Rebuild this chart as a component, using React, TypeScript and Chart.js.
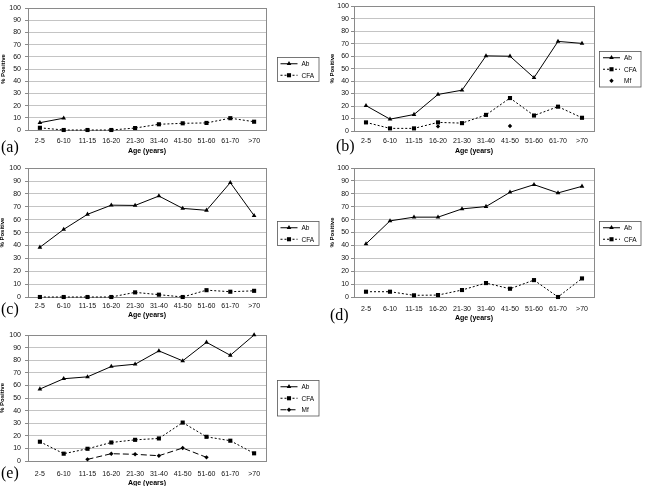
import React, { useEffect, useRef } from "react";
import { Chart, registerables } from "chart.js";

Chart.register(...registerables);

const categories = ["2-5", "6-10", "11-15", "16-20", "21-30", "31-40", "41-50", "51-60", "61-70", ">70"];
const yTickStep = 10;
const yMax = 100;

const aAb = [6, 9.7, null, null, null, null, null, null, null, null];
const aCfa = [1.8, 0, 0, 0, 1.6, 4.7, 5.5, 5.8, 9.7, 6.8];

const bAb = [20.3, 9.5, 13.2, 29.3, 32.7, 60.2, 59.9, 42.7, 71.8, 70.2];
const bCfa = [6.9, 2.1, 2.1, 6.9, 6.3, 12.9, 26.4, 12.4, 19.5, 10.6];
const bMf = [null, null, null, 3.7, null, null, 4, null, null, null];

const cAb = [38.6, 52.5, 64.2, 71.3, 71.1, 78.4, 68.8, 67.3, 88.8, 63.2];
const cCfa = [0, 0, 0, 0, 3.6, 1.8, 0, 5.3, 4.1, 4.8];

const dAb = [41.2, 59, 61.9, 61.9, 68.3, 70.1, 81.2, 87.1, 80.7, 85.8];
const dCfa = [4.1, 4.1, 1.3, 1.5, 5.4, 10.8, 6.4, 13.1, 0, 14.4];

const eAb = [57.1, 65.3, 66.8, 75, 76.8, 87.4, 79.5, 94.2, 83.9, 100];
const eCfa = [15.3, 5.8, 9.7, 14.7, 16.8, 17.9, 30.5, 19.2, 16.1, 6.1];
const eMf = [null, null, 1.3, 5.8, 5.3, 4.2, 10.3, 2.9, null, null];

const seriesNames = ["Ab", "CFA", "Mf"];
const xTitle = "Age (years)";
const yTitle = "% Positive";

const FONT = "'Liberation Sans', Arial, sans-serif";

type Style = { pointStyle: string; radius: number; dash: number[]; showLine: boolean };
const abStyle: Style = { pointStyle: "triangle", radius: 2.7, dash: [], showLine: true };
const cfaStyle: Style = { pointStyle: "rect", radius: 2.9, dash: [2, 2], showLine: true };
const mfDotStyle: Style = { pointStyle: "rectRot", radius: 2.2, dash: [], showLine: false };
const mfDashStyle: Style = { pointStyle: "rectRot", radius: 2.2, dash: [6, 3], showLine: true };

type PanelDef = {
  letter: string;
  canvas: { left: number; top: number; w: number; h: number };
  plot: { l: number; r: number; t: number; b: number };
  labelsDy: number;
  titleDy: number;
  yTitleX: number;
  tickGap: number;
  legendX: number;
  letterPos: { x: number; cy: number };
  series: { name: string; data: (number | null)[]; style: Style }[];
};

const panels: PanelDef[] = [
  {
    letter: "(a)",
    canvas: { left: 0, top: 0, w: 322, h: 160 },
    plot: { l: 28, r: 266, t: 3.5, b: 130 },
    labelsDy: 11, titleDy: 21, yTitleX: 3.3, tickGap: 4, legendX: 276.5,
    letterPos: { x: 1, cy: 147 },
    series: [
      { name: seriesNames[0], data: aAb, style: abStyle },
      { name: seriesNames[1], data: aCfa, style: cfaStyle },
    ],
  },
  {
    letter: "(b)",
    canvas: { left: 322, top: 0, w: 325, h: 160 },
    plot: { l: 354, r: 594, t: 4, b: 131 },
    labelsDy: 10.5, titleDy: 20, yTitleX: 332.5, tickGap: 2, legendX: 599,
    letterPos: { x: 336, cy: 146 },
    series: [
      { name: seriesNames[0], data: bAb, style: abStyle },
      { name: seriesNames[1], data: bCfa, style: cfaStyle },
      { name: seriesNames[2], data: bMf, style: mfDotStyle },
    ],
  },
  {
    letter: "(c)",
    canvas: { left: 0, top: 160, w: 322, h: 160 },
    plot: { l: 28, r: 266, t: 166, b: 297 },
    labelsDy: 9, titleDy: 18.5, yTitleX: 2.5, tickGap: 4, legendX: 276.5,
    letterPos: { x: 1, cy: 309 },
    series: [
      { name: seriesNames[0], data: cAb, style: abStyle },
      { name: seriesNames[1], data: cCfa, style: cfaStyle },
    ],
  },
  {
    letter: "(d)",
    canvas: { left: 322, top: 160, w: 325, h: 166 },
    plot: { l: 354, r: 594, t: 168, b: 297 },
    labelsDy: 11.7, titleDy: 21, yTitleX: 332.5, tickGap: 2, legendX: 599,
    letterPos: { x: 330, cy: 315 },
    series: [
      { name: seriesNames[0], data: dAb, style: abStyle },
      { name: seriesNames[1], data: dCfa, style: cfaStyle },
    ],
  },
  {
    letter: "(e)",
    canvas: { left: 0, top: 320, w: 322, h: 166 },
    plot: { l: 28, r: 266, t: 335, b: 461 },
    labelsDy: 13, titleDy: 22, yTitleX: 2.5, tickGap: 4, legendX: 276.5,
    letterPos: { x: 1, cy: 473 },
    series: [
      { name: seriesNames[0], data: eAb, style: abStyle },
      { name: seriesNames[1], data: eCfa, style: cfaStyle },
      { name: seriesNames[2], data: eMf, style: mfDashStyle },
    ],
  },
];

function drawMarker(ctx: CanvasRenderingContext2D, style: string, x: number, y: number, r: number) {
  ctx.beginPath();
  if (style === "triangle") {
    ctx.moveTo(x, y - r);
    ctx.lineTo(x + r * 0.866, y + r * 0.5);
    ctx.lineTo(x - r * 0.866, y + r * 0.5);
    ctx.closePath();
  } else if (style === "rect") {
    const s = r * Math.SQRT1_2;
    ctx.rect(x - s, y - s, 2 * s, 2 * s);
  } else {
    ctx.moveTo(x, y - r);
    ctx.lineTo(x + r, y);
    ctx.lineTo(x, y + r);
    ctx.lineTo(x - r, y);
    ctx.closePath();
  }
  ctx.fill();
}

const frameLegendPlugin = {
  id: "frameLegend",
  beforeDatasetsDraw(chart: any) {
    const { ctx, chartArea } = chart;
    ctx.save();
    ctx.strokeStyle = "#8a8a8a";
    ctx.lineWidth = 1;
    ctx.strokeRect(
      Math.round(chartArea.left) + 0.5,
      Math.round(chartArea.top) + 0.5,
      Math.round(chartArea.right - chartArea.left),
      Math.round(chartArea.bottom - chartArea.top)
    );
    ctx.restore();
  },
  afterDraw(chart: any) {
    const opts = chart.options.plugins.frameLegend;
    if (!opts) return;
    const { ctx, chartArea } = chart;
    const items = opts.items as { name: string; style: Style }[];
    const rowH = 11.5;
    const w = 41.5;
    const h = items.length * rowH + 1;
    const cy = (chartArea.top + chartArea.bottom) / 2;
    const top = Math.round(cy - h / 2);
    const x = opts.x;
    ctx.save();
    ctx.strokeStyle = "#555";
    ctx.lineWidth = 0.8;
    ctx.strokeRect(Math.round(x) + 0.5, top + 0.5, w, h);
    ctx.font = `6.5px ${FONT}`;
    ctx.textBaseline = "middle";
    ctx.textAlign = "left";
    items.forEach((it, i) => {
      const y = top + 1 + rowH * (i + 0.5);
      ctx.strokeStyle = "#000";
      ctx.fillStyle = "#000";
      ctx.lineWidth = 1;
      if (it.style.showLine) {
        ctx.setLineDash(it.style.dash);
        ctx.beginPath();
        ctx.moveTo(x + 4, y);
        ctx.lineTo(x + 21, y);
        ctx.stroke();
        ctx.setLineDash([]);
      }
      drawMarker(ctx, it.style.pointStyle, x + 12.5, y, it.style.radius);
      ctx.fillText(it.name, x + 25, y + 0.5);
    });
    ctx.restore();
  },
};

function Panel({ def }: { def: PanelDef }) {
  const ref = useRef<HTMLCanvasElement | null>(null);
  useEffect(() => {
    if (!ref.current) return;
    const c = def.canvas;
    const plotL = def.plot.l - c.left;
    const plotR = def.plot.r - c.left;
    const plotT = def.plot.t - c.top;
    const plotB = def.plot.b - c.top;
    const xH = c.h - plotB;
    const tickFont = 7;
    const titleFont = 7;
    const yTitleFont = 6;
    const chart = new Chart(ref.current, {
      type: "line",
      data: {
        labels: categories,
        datasets: def.series.map((s) => ({
          label: s.name,
          data: s.data,
          borderColor: "#000",
          backgroundColor: "#000",
          borderWidth: 1,
          borderDash: s.style.dash,
          showLine: s.style.showLine,
          pointStyle: s.style.pointStyle as any,
          pointRadius: s.style.radius,
          pointBorderWidth: 0,
          pointBackgroundColor: "#000",
          pointBorderColor: "#000",
          tension: 0,
          clip: false as any,
        })),
      },
      options: {
        animation: false,
        responsive: false,
        devicePixelRatio: 1,
        layout: { padding: { left: 0, top: plotT, right: c.w - plotR, bottom: 0 } },
        plugins: {
          legend: { display: false },
          tooltip: { enabled: false },
          frameLegend: {
            x: def.legendX - c.left,
            items: def.series.map((s) => ({ name: s.name, style: s.style })),
          },
        } as any,
        scales: {
          x: {
            type: "category",
            offset: true,
            grid: { display: false, drawTicks: false },
            border: { display: false },
            ticks: {
              color: "#111",
              font: { family: FONT, size: tickFont },
              padding: def.labelsDy - tickFont * 0.6,
              maxRotation: 0,
              autoSkip: false,
            },
            title: {
              display: true,
              text: xTitle,
              color: "#000",
              font: { family: FONT, size: titleFont, weight: "bold" },
              padding: { top: 0, bottom: xH - titleFont * 0.6 - def.titleDy },
            },
            afterFit: (s: any) => {
              s.height = xH;
            },
          },
          y: {
            min: 0,
            max: yMax,
            grid: { color: "#c4c4c4", lineWidth: 1, drawTicks: true, tickLength: 3, tickColor: "#8a8a8a" },
            border: { display: false },
            ticks: {
              stepSize: yTickStep,
              color: "#111",
              font: { family: FONT, size: tickFont },
              padding: def.tickGap,
            },
            title: {
              display: true,
              text: yTitle,
              color: "#000",
              font: { family: FONT, size: yTitleFont, weight: "bold" },
              padding: { top: def.yTitleX - c.left - yTitleFont * 0.6, bottom: 0 },
            },
            afterFit: (s: any) => {
              s.width = plotL;
            },
          },
        },
      },
      plugins: [frameLegendPlugin as any],
    });
    return () => chart.destroy();
  }, [def]);
  return (
    <canvas
      ref={ref}
      width={def.canvas.w}
      height={def.canvas.h}
      style={{
        position: "absolute",
        left: def.canvas.left,
        top: def.canvas.top,
        width: def.canvas.w,
        height: def.canvas.h,
      }}
    />
  );
}

export default function App() {
  return (
    <div
      style={{
        position: "absolute",
        left: 0,
        top: 0,
        width: 647,
        height: 486,
        background: "#fff",
        overflow: "hidden",
      }}
    >
      {panels.map((p) => (
        <Panel key={p.letter} def={p} />
      ))}
      {panels.map((p) => (
        <div
          key={"l" + p.letter}
          style={{
            position: "absolute",
            left: p.letterPos.x,
            top: p.letterPos.cy - 9,
            fontFamily: "'Liberation Serif', 'Times New Roman', serif",
            fontSize: 16,
            lineHeight: "18px",
            color: "#000",
          }}
        >
          {p.letter}
        </div>
      ))}
    </div>
  );
}
